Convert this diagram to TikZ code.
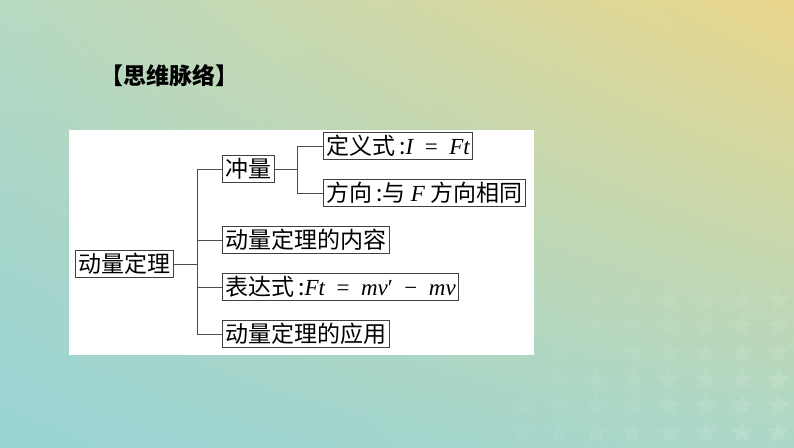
\documentclass[tikz,border=0pt]{standalone}
\usepackage{fontspec}
\usetikzlibrary{shadings}
\setmainfont{Liberation Serif}
\newfontfamily\cjk{Noto Sans CJK SC}
\newfontfamily\tnr{Liberation Serif}
\newcommand\mi[1]{{\tnr\itshape #1}}
\newcommand\mo[1]{{\tnr\enspace#1\enspace}}
\newcommand\mystar[3]{\fill[white,fill opacity=#3,shift={(#1,#2)}] (90:12) -- (126:5) -- (162:12) -- (198:5) -- (234:12) -- (270:5) -- (306:12) -- (342:5) -- (18:12) -- (54:5) -- cycle;}
\definecolor{bgul}{RGB}{182,217,194}
\definecolor{bgur}{RGB}{234,214,138}
\definecolor{bgll}{RGB}{152,211,212}
\definecolor{bglr}{RGB}{172,216,200}
\begin{document}
\begin{tikzpicture}[x=1pt,y=1pt,
  box/.style={draw=black!75,line width=0.9pt,fill=white,inner xsep=3pt,inner ysep=0pt,minimum height=27pt,anchor=west,font=\fontsize{23}{23}\selectfont\cjk},
  link/.style={draw=black!70,line width=0.9pt}]
\useasboundingbox (0,0) rectangle (794,447);
\shade[upper left=bgul,upper right=bgur,lower left=bgll,lower right=bglr] (0,0) rectangle (794,447);
% faint stars
\foreach \i in {0,...,7}{
  \foreach \j in {0,...,5}{
    \pgfmathsetmacro\op{0.01+0.01*\i+0.008*\j}
    \mystar{523+36.5*\i}{147-26.5*\j}{\op}
  }
}
\fill[white] (69,92) rectangle (534,317);
\node[font=\fontsize{23}{23}\selectfont\cjk\bfseries] (title) at (169,371) {【思维脉络】};
\node[box] (root) at (75,183) {动量定理};
\node[box] (c1) at (222,278) {冲量};
\node[box] (d1) at (323,301) {定义式\,:\mi{I}\mo{=}\mi{Ft}};
\node[box] (d2) at (323,254) {方向\,:与 \mi{F} 方向相同};
\node[box] (c2) at (222,207) {动量定理的内容};
\node[box] (c3) at (222,160) {表达式\,:\mi{Ft}\mo{=}\mi{mv}{\tnr ′}\mo{−}\mi{mv}};
\node[box] (c4) at (222,113) {动量定理的应用};
\coordinate (t1) at (197,183);
\coordinate (t2) at (297,278);
\draw[link] (root.east) -- (t1);
\draw[link] (t1 |- c1.west) -- (t1 |- c4.west);
\foreach \c in {c1,c2,c3,c4}{\draw[link] (t1 |- \c.west) -- (\c.west);}
\draw[link] (c1.east) -- (t2);
\draw[link] (t2 |- d1.west) -- (t2 |- d2.west);
\foreach \c in {d1,d2}{\draw[link] (t2 |- \c.west) -- (\c.west);}
\end{tikzpicture}
\end{document}
